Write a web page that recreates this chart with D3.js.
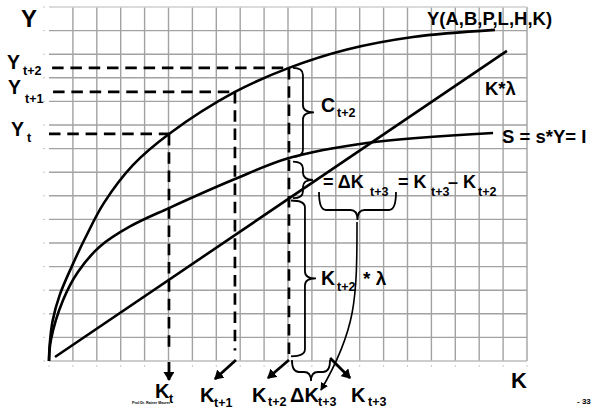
<!DOCTYPE html>
<html>
<head>
<meta charset="utf-8">
<script src="https://cdn.jsdelivr.net/npm/d3@7"></script>
<style>
  body { margin: 0; background: #fff; }
  svg { display: block; font-family: "Liberation Sans", Arial, sans-serif; font-weight: bold; }
</style>
</head>
<body>
<svg id="chart" width="592" height="410"></svg>
<script>
// values, in grid cells (20 wide, 15 high)
const yCurveK = [0, 0.03, 0.15, 0.45, 0.95, 1.51, 2.3, 3.51, 5.02, 7.78, 10.04, 12.47, 15.23, 18.66];
const yCurveY = [0, 0.7, 1.7, 2.8, 4.0, 5.2, 6.7, 8.3, 9.62, 11.4, 12.42, 13.2, 13.73, 14.03];

const sCurveK = [0, 0.08, 0.59, 1.21, 2.13, 3.39, 5.02, 7.78, 10.04, 13.29, 18.58];
const sCurveS = [0, 0.89, 2.58, 3.77, 4.85, 5.7, 6.48, 7.71, 8.6, 9.24, 9.66];

const lambdaK = [0.25, 19.16];
const lambdaY = [0.17, 13.14];

// K_t, K_t+1, K_t+2 and the Y levels on the curve
const kMarks = [5.02, 7.78, 10.04];
const yMarks = [9.62, 11.4, 12.42];
const kNext = 11.76;   // K_t+3

// braces next to K_t+2 : [top, bottom] in Y units
const cBrace = [12.42, 8.65];
const dkBrace = [8.45, 6.9];
const lamBrace = [6.8, 0.2];

const svg = d3.select('#chart');
const x = d3.scaleLinear().domain([0, 20]).range([49, 527]);
const y = d3.scaleLinear().domain([0, 15]).range([361, 7]);

// arrow heads
const defs = svg.append('defs');
defs.append('marker').attr('id', 'ah')
  .attr('viewBox', '0 0 9 11').attr('markerUnits', 'userSpaceOnUse')
  .attr('markerWidth', 9).attr('markerHeight', 11)
  .attr('refX', 8).attr('refY', 5.5).attr('orient', 'auto')
  .append('path').attr('d', 'M0,0 L9,5.5 L0,11 z').attr('fill', '#000');
defs.append('marker').attr('id', 'ahs')
  .attr('viewBox', '0 0 8 8').attr('markerUnits', 'userSpaceOnUse')
  .attr('markerWidth', 8).attr('markerHeight', 8)
  .attr('refX', 7).attr('refY', 4).attr('orient', 'auto')
  .append('path').attr('d', 'M0,0 L8,4 L0,8 z').attr('fill', '#000');

// grid
const grid = svg.append('g');
x.ticks(20).filter(d => d > 0).forEach(d => {
  grid.append('line').attr('x1', x(d)).attr('x2', x(d)).attr('y1', y(15)).attr('y2', y(0))
    .attr('stroke', '#a2a2a2').attr('stroke-width', 1.4);
});
y.ticks(15).forEach(d => {
  grid.append('line').attr('x1', x(0)).attr('x2', x(20)).attr('y1', y(d)).attr('y2', y(d))
    .attr('stroke', (d == 15) ? '#cfcfcf' : (d == 0 ? '#bdbdbd' : '#a2a2a2')).attr('stroke-width', 1.4);
  grid.append('line').attr('x1', x(0) - 6).attr('x2', x(0) - 4).attr('y1', y(d)).attr('y2', y(d))
    .attr('stroke', '#c8c8c8').attr('stroke-width', 1);
});
x.ticks(20).forEach(d => {
  grid.append('line').attr('x1', x(d)).attr('x2', x(d)).attr('y1', y(0) + 4).attr('y2', y(0) + 6)
    .attr('stroke', '#c8c8c8').attr('stroke-width', 1);
});

// dashed guides
const dash = svg.append('g').attr('stroke', '#000').attr('stroke-width', 2.7)
  .attr('stroke-dasharray', '11.5 6.8').attr('fill', 'none');
const dashStart = [0, 0.17, 0.13];
const dashEnd = [0.33, 0.45, 0.25];
kMarks.forEach((k, i) => {
  dash.append('line').attr('x1', x(dashStart[i])).attr('x2', x(k)).attr('y1', y(yMarks[i])).attr('y2', y(yMarks[i]));
  dash.append('line').attr('x1', x(k)).attr('x2', x(k)).attr('y1', y(yMarks[i])).attr('y2', y(dashEnd[i]));
});

// curves
const line = d3.line().x(d => x(d[0])).y(d => y(d[1])).curve(d3.curveCatmullRom.alpha(0.5));
const curves = svg.append('g').attr('fill', 'none').attr('stroke', '#000').attr('stroke-width', 2.6);
curves.append('path').attr('d', line(yCurveK.map((k, i) => [k, yCurveY[i]])));
curves.append('path').attr('d', line(sCurveK.map((k, i) => [k, sCurveS[i]])));
curves.append('path').attr('d', d3.line().x(d => x(d[0])).y(d => y(d[1]))(lambdaK.map((k, i) => [k, lambdaY[i]])));

// braces
function vBrace(px, y0, y1, d, tip) {
  const ym = (y0 + y1) / 2, r = Math.min(7, (y1 - y0) / 4);
  return `M${px},${y0} Q${px + d},${y0} ${px + d},${y0 + r} L${px + d},${ym - r} Q${px + d},${ym} ${px + d + tip},${ym}`
    + ` Q${px + d},${ym} ${px + d},${ym + r} L${px + d},${y1 - r} Q${px + d},${y1} ${px},${y1}`;
}
function hBrace(x0, x1, py, d, tip) {
  const xm = (x0 + x1) / 2, r = Math.min(7, (x1 - x0) / 4);
  return `M${x0},${py} Q${x0},${py + d} ${x0 + r},${py + d} L${xm - r},${py + d} Q${xm},${py + d} ${xm},${py + d + tip}`
    + ` Q${xm},${py + d} ${xm + r},${py + d} L${x1 - r},${py + d} Q${x1},${py + d} ${x1},${py}`;
}
const br = svg.append('g').attr('fill', 'none').attr('stroke', '#000').attr('stroke-width', 1.8);
const bx = x(kMarks[2]) + 4;
br.append('path').attr('d', vBrace(bx, y(cBrace[0]), y(cBrace[1]), 10, 11));
br.append('path').attr('d', vBrace(bx, y(dkBrace[0]), y(dkBrace[1]), 10, 10));
br.append('path').attr('d', vBrace(bx - 2, y(lamBrace[0]), y(lamBrace[1]), 14, 11));
br.append('path').attr('d', hBrace(319, 396, 192, 18, 10));
br.append('path').attr('d', hBrace(x(kMarks[2]) + 3, x(kNext), 360, 12, 9));
// curved arrow from the brace below the ΔK text down to ΔK_t+3
br.append('path').attr('d', 'M357,222 C357,300 356,330 321,390').attr('stroke-width', 1.6)
  .attr('marker-end', 'url(#ahs)');

// arrows below the axis
const arr = svg.append('g').attr('stroke', '#000').attr('stroke-width', 2.8).attr('marker-end', 'url(#ah)');
arr.append('line').attr('x1', x(kMarks[0])).attr('x2', x(kMarks[0])).attr('y1', 362).attr('y2', 380);
arr.append('line').attr('x1', x(kMarks[1]) + 1).attr('x2', x(kMarks[1]) - 20).attr('y1', 360).attr('y2', 379);
arr.append('line').attr('x1', x(kMarks[2])).attr('x2', x(kMarks[2]) - 21).attr('y1', 360).attr('y2', 378);
arr.append('line').attr('x1', x(kNext)).attr('x2', x(kNext) + 20).attr('y1', 358).attr('y2', 378);

// labels
function lab(px, py, main, fs, sub, sx, sy, sfs) {
  svg.append('text').attr('x', px).attr('y', py).attr('font-size', fs).text(main);
  if (sub) svg.append('text').attr('x', sx).attr('y', sy).attr('font-size', sfs || 12.5).text(sub);
}
lab(21, 27, 'Y', 24);
lab(7, 69, 'Y', 19.5, 't+2', 23, 75);
lab(8, 94, 'Y', 19.5, 't+1', 25, 103);
lab(11, 136, 'Y', 19.5, 't', 27, 142);

lab(427, 25, 'Y(A,B,P,L,H,K)', 18.5);
lab(485, 95, 'K*λ', 18.5);
lab(502, 143, 'S = s*Y= I', 18.5);

lab(321, 112, 'C', 19.5, 't+2', 337, 117);
lab(321, 285, 'K', 19.5, 't+2', 337, 291);
lab(363, 285, '* λ', 19);

lab(323, 188, '= ΔK', 18, 't+3', 370, 196);
lab(398, 188, '= K', 18, 't+3', 431, 196);
lab(448, 188, '– K', 18, 't+2', 478, 196);

lab(155, 398, 'K', 20, 't', 169, 403);
lab(200, 402, 'K', 20, 't+1', 214, 407);
lab(252, 402, 'K', 20, 't+2', 268, 406);
lab(290, 402, 'ΔK', 20, 't+3', 318, 406);
lab(351, 402, 'K', 20, 't+3', 368, 406);

lab(511, 388, 'K', 22);
lab(577, 404, '- 33', 8);
lab(132, 404, 'Prof.Dr. Rainer Maurer', 3.6);
</script>
</body>
</html>
